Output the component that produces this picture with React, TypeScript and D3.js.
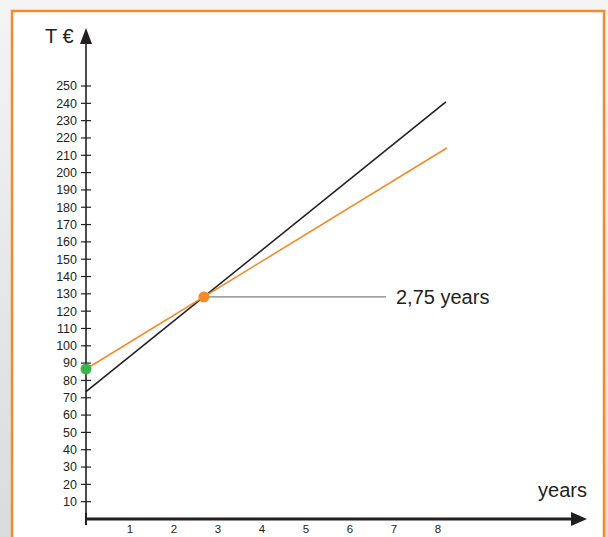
import React from 'react';
import { scaleLinear, line } from 'd3';

// values
const yTicks = [10, 20, 30, 40, 50, 60, 70, 80, 90, 100, 110, 120, 130, 140, 150, 160, 170, 180, 190, 200, 210, 220, 230, 240, 250];
const xTicks = [1, 2, 3, 4, 5, 6, 7, 8];
const costLine: [number, number][] = [[0, 73.5], [8.18, 240.8]];
const revenueLine: [number, number][] = [[0, 86.6], [8.2, 214.2]];
const startPoint: [number, number] = [0, 86.6];
const breakEven: [number, number] = [2.68, 128.2];
const breakEvenLabel = '2,75 years';
const yLabel = 'T €';
const xLabel = 'years';

const W = 608;
const H = 537;
const font = '"Liberation Sans", Arial, sans-serif';
const ink = '#231f20';
const orange = '#f58a2a';

const App: React.FC = () => {
  const x = scaleLinear().domain([0, 1]).range([86, 130]);
  const y = scaleLinear().domain([0, 250]).range([519, 86]);
  const path = line<[number, number]>().x(d => x(d[0])).y(d => y(d[1]));

  return (
    <div style={{ position: 'fixed', left: 0, top: 0, width: W, height: H, overflow: 'hidden' }}>
      <svg width={W} height={H} style={{ display: 'block' }}>
        <defs>
          <linearGradient id="bg" x1="0" y1="0" x2="0" y2="1">
            <stop offset="0" stopColor="#f4f4f4" />
            <stop offset="1" stopColor="#dadbdc" />
          </linearGradient>
        </defs>
        <rect x={0} y={0} width={W} height={H} fill="url(#bg)" />
        <rect x={12} y={11} width={592} height={H + 20} fill="#fff" stroke={orange} strokeWidth={2.5} />

        {/* y axis */}
        <line x1={x(0)} x2={x(0)} y1={y(0) + 5} y2={42} stroke={ink} strokeWidth={1.6} />
        <path d={`M${x(0)},28 L${x(0) - 6},44 L${x(0) + 6},44 Z`} fill={ink} />
        {yTicks.map(t => (
          <g key={t}>
            <line x1={x(0) - 5} x2={x(0) + 5} y1={y(t)} y2={y(t)} stroke={ink} strokeWidth={1.2} />
            <text x={x(0) - 9} y={y(t)} dy="0.35em" textAnchor="end" fontFamily={font} fontSize={12.5} fill={ink}>{t}</text>
          </g>
        ))}
        <text x={45} y={43} fontFamily={font} fontSize={20} fill={ink}>{yLabel}</text>

        {/* x axis */}
        <line x1={x(0)} x2={572} y1={y(0)} y2={y(0)} stroke={ink} strokeWidth={2.8} />
        <line x1={x(0)} x2={x(0)} y1={y(0) - 6} y2={y(0) + 6} stroke={ink} strokeWidth={2} />
        <path d={`M587,${y(0)} L571,${y(0) - 7} L571,${y(0) + 7} Z`} fill={ink} />
        {xTicks.map(t => (
          <text key={t} x={x(t)} y={533} textAnchor="middle" fontFamily={font} fontSize={11.5} fill={ink}>{t}</text>
        ))}
        <text x={587} y={497} textAnchor="end" fontFamily={font} fontSize={20} fill={ink}>{xLabel}</text>

        {/* lines */}
        <path d={path(costLine) ?? ''} fill="none" stroke={ink} strokeWidth={1.6} />
        <path d={path(revenueLine) ?? ''} fill="none" stroke={orange} strokeWidth={1.6} />

        {/* break-even annotation */}
        <line x1={x(breakEven[0])} x2={386} y1={y(breakEven[1])} y2={y(breakEven[1])} stroke="#808080" strokeWidth={1.2} />
        <text x={396} y={y(breakEven[1])} dy="0.35em" fontFamily={font} fontSize={20} fill={ink}>{breakEvenLabel}</text>
        <circle cx={x(breakEven[0])} cy={y(breakEven[1])} r={5.5} fill={orange} />
        <circle cx={x(startPoint[0])} cy={y(startPoint[1])} r={5.5} fill="#39b54a" />
      </svg>
    </div>
  );
};

export default App;
